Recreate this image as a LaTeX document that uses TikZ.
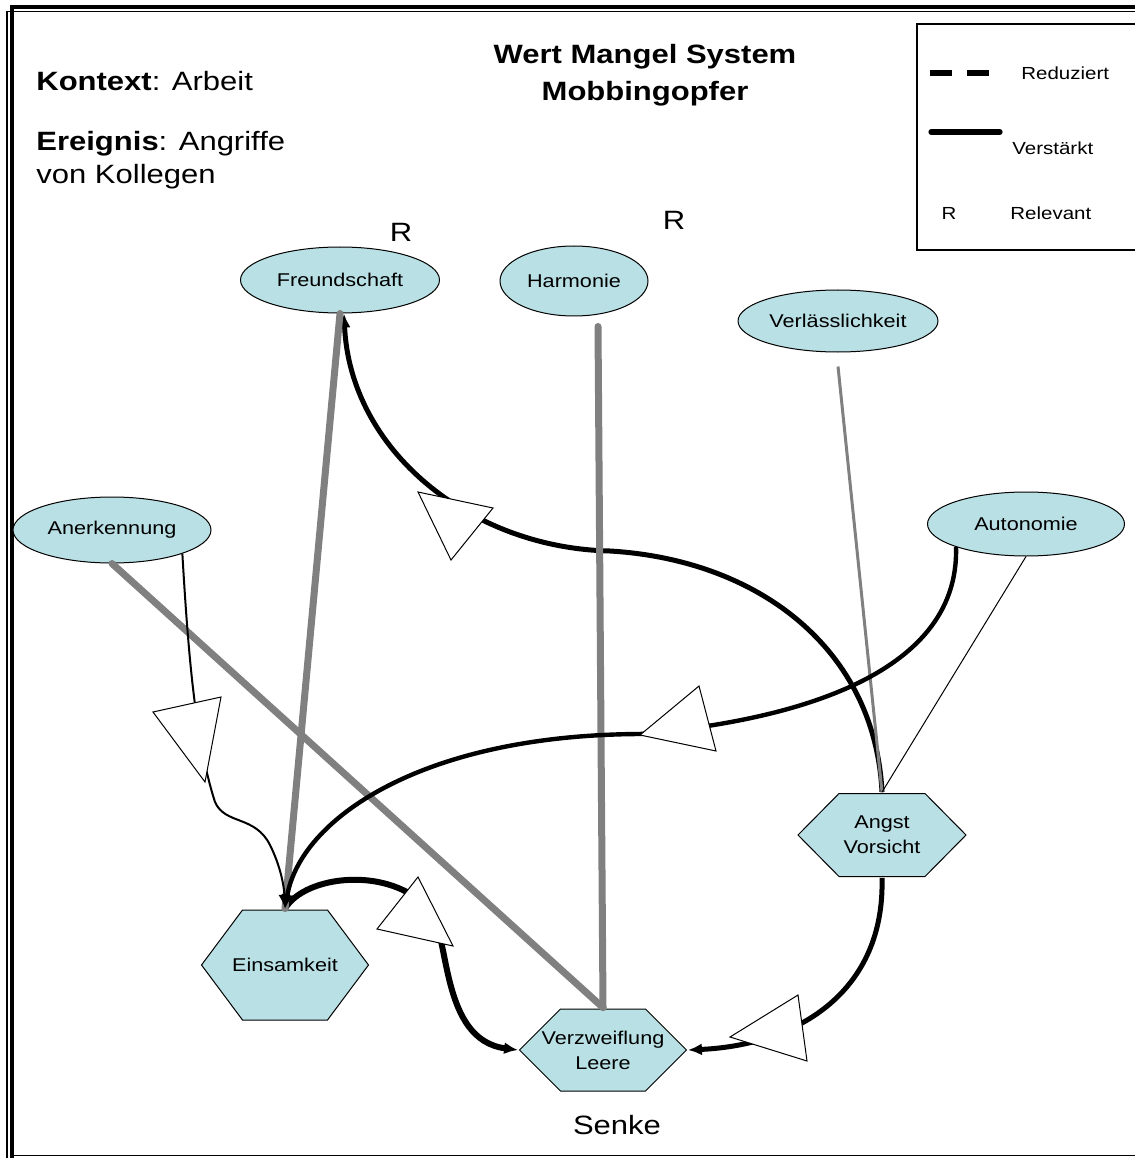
\documentclass[tikz,border=0pt]{standalone}
\usepackage{fontspec}
\setmainfont{Liberation Sans}[FakeStretch=1.17]
\usepackage{tikz}
\usetikzlibrary{shapes.geometric}
\usetikzlibrary{arrows.meta}

\definecolor{wertblau}{RGB}{185,224,228}
\definecolor{linie}{RGB}{128,128,128}

\newcommand\grossfont{\fontsize{13.25}{16.5}\selectfont}
\newcommand\titelfont{\fontsize{13.25}{18.5}\selectfont}
\newcommand\knotenfont{\fontsize{9.25}{12.5}\selectfont}
\newcommand\legendfont{\fontsize{8.75}{10}\selectfont}

\tikzset{
	wert/.style={ellipse, draw=black, line width=0.5pt, fill=wertblau, inner sep=0pt, font=\knotenfont},
	mangel/.style={rectangle, inner sep=0pt, align=center, font=\knotenfont,
		path picture={
			\draw[fill=wertblau, line width=0.5pt]
				([xshift=0.5pt]path picture bounding box.west)
				-- ([xshift=21pt,yshift=-0.5pt]path picture bounding box.north west)
				-- ([xshift=-21pt,yshift=-0.5pt]path picture bounding box.north east)
				-- ([xshift=-0.5pt]path picture bounding box.east)
				-- ([xshift=-21pt,yshift=0.5pt]path picture bounding box.south east)
				-- ([xshift=21pt,yshift=0.5pt]path picture bounding box.south west)
				-- cycle;
		}},
	pfeil/.style={-{Latex[length=7pt,width=6pt]}},
	grau/.style={draw=linie, line width=3.5pt, line cap=round},
	marke/.style={draw=black, fill=white, line width=0.5pt},
}

\begin{document}
\begin{tikzpicture}[x=0.5pt, y=-0.5pt]
	\useasboundingbox (0,0) rectangle (1134,1160);
	
	% rahmen
	\draw[line width=0.6pt] (7,1158) -- (7,11.5) -- (1140,11.5);
	\draw[line width=2pt] (12,1158) -- (12,7.5) -- (1140,7.5);
	\draw[line width=0.6pt] (12,1155.5) -- (1140,1155.5);
	
	% texte oben
	\node[anchor=base west, inner sep=0pt, font=\grossfont] (kontext) at (36,91) {\textbf{Kontext}: Arbeit};
	\node[anchor=west, inner sep=0pt, align=left, font=\grossfont] (ereignis) at (36,160) {\textbf{Ereignis}: Angriffe\\von Kollegen};
	\node[inner sep=0pt, align=center, font=\titelfont\bfseries] (titel) at (645,75) {Wert Mangel System\\Mobbingopfer};
	
	% legende
	\draw[line width=0.6pt] (917,24) rectangle (1140,250);
	\draw[line width=2.6pt, dash pattern=on 11pt off 7.5pt] (930,73) -- (989,73);
	\node[anchor=west, inner sep=0pt, font=\legendfont] (reduziert) at (1021,73) {Reduziert};
	\draw[line width=2.6pt, line cap=round] (931,132) -- (1000,132);
	\node[anchor=west, inner sep=0pt, font=\legendfont] (verstaerkt) at (1012,148) {Verstärkt};
	\node[inner sep=0pt, font=\legendfont] (rlegende) at (949,213) {R};
	\node[anchor=west, inner sep=0pt, font=\legendfont] (relevant) at (1010,213) {Relevant};
	
	% werte
	\node[wert, minimum width=99.5pt, minimum height=33pt] (freund) at (340,280) {Freundschaft};
	\node[wert, minimum width=74pt, minimum height=35pt] (harmonie) at (574,281) {Harmonie};
	\node[wert, minimum width=100pt, minimum height=31pt] (verlass) at (838,321) {Verlässlichkeit};
	\node[wert, minimum width=99pt, minimum height=33pt] (anerkennung) at (112,530) {Anerkennung};
	\node[wert, minimum width=98.5pt, minimum height=32pt] (autonomie) at (1026,524) {Autonomie};
	\node[inner sep=0pt, font=\grossfont] (rfreund) at (401,232) {R};
	\node[inner sep=0pt, font=\grossfont] (rharmonie) at (674,220) {R};
	
	% mangel
	\node[mangel, minimum width=84.5pt, minimum height=56pt] (einsam) at (285,965) {Einsamkeit};
	\node[mangel, minimum width=85pt, minimum height=42.5pt] (angst) at (882,835) {Angst\\Vorsicht};
	\node[mangel, minimum width=84.5pt, minimum height=42pt] (verzweif) at (603,1050) {Verzweiflung\\Leere};
	\node[inner sep=0pt, font=\grossfont] (senke) at (617,1125) {Senke};
	
	% verstaerkungen
	\draw[pfeil, line width=2.5pt] (angst.north) .. controls (875,650) and (760,560) .. (610,551)
		.. controls (470,548) and (350,450) .. ([xshift=2pt]freund.south);
	\draw[pfeil, line width=3pt] (einsam.north) .. controls (305,875) and (390,865) .. (430,910)
		.. controls (450,935) and (440,1040) .. (verzweif.west);
	\draw[pfeil, line width=2.5pt] (angst.south) .. controls (885,990) and (800,1045) .. (verzweif.east);
	
	% graue linien
	\draw[grau] (freund.south) -- (einsam.north);
	\draw[grau] ([xshift=12pt,yshift=-5pt]harmonie.south) -- (verzweif.north);
	\draw[grau] (anerkennung.south) -- (verzweif.north);
	\draw[draw=linie, line width=1.5pt] ([yshift=-7pt]verlass.south) -- (angst.north);
	\draw[line width=0.5pt] (autonomie.south) -- (angst.north);
	
	% pfeile nach einsamkeit
	\draw[pfeil, line width=2.2pt] (autonomie.south west) .. controls (960,680) and (780,722) .. (640,734)
		.. controls (420,735) and (300,820) .. (einsam.north);
	\draw[pfeil, line width=1pt] (anerkennung.south east) .. controls (188,650) and (195,740) .. (215,802)
		.. controls (225,825) and (255,815) .. (270,845) .. controls (280,865) and (284,885) .. (einsam.north);
	
	% marken
	\draw[marke] (418,492) -- (493,508) -- (451,560) -- cycle;
	\draw[marke] (640,735) -- (699,686) -- (716,751) -- cycle;
	\draw[marke] (153,712) -- (221,697) -- (205,782) -- cycle;
	\draw[marke] (418,877) -- (377,929) -- (453,946) -- cycle;
	\draw[marke] (730,1037) -- (798,995) -- (807,1061) -- cycle;
\end{tikzpicture}
\end{document}
